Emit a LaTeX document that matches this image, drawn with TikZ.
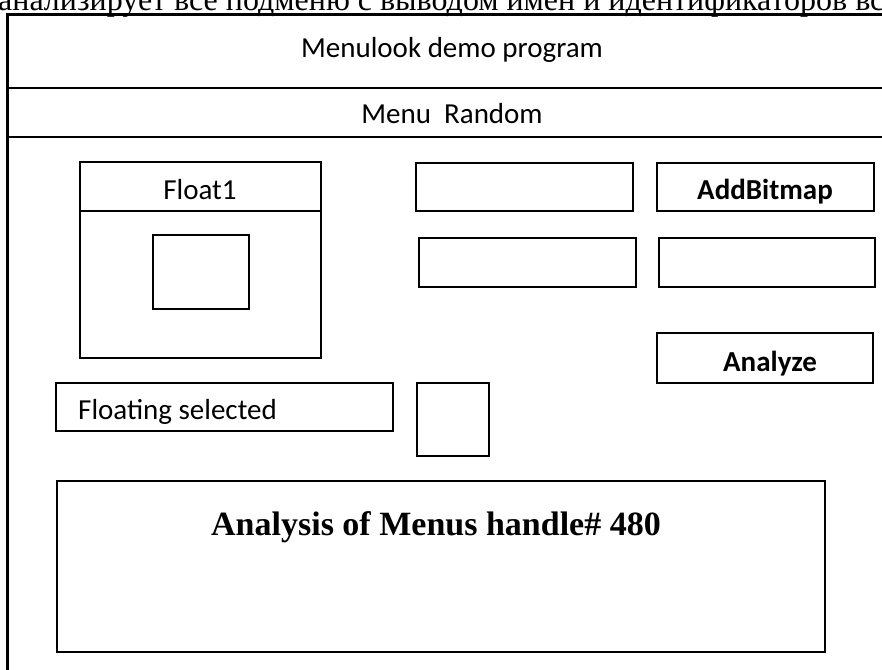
\documentclass[tikz,border=0pt]{standalone}
\usepackage{fontspec}
\setmainfont{Liberation Serif}
\newfontfamily\calibri{Carlito}
\usetikzlibrary{positioning}
\tikzset{
  winbox/.style={draw,line width=2pt,inner sep=0pt,anchor=north west},
  lbl/.style={font=\calibri\fontsize{29}{34}\selectfont,inner sep=0pt,anchor=base},
  boldlbl/.style={font=\calibri\bfseries\fontsize{29}{34}\selectfont,inner sep=0pt,anchor=base},
  frame/.style={line width=2.6pt}
}
\begin{document}
\begin{tikzpicture}[x=1pt,y=-1pt]
\useasboundingbox (0,0) rectangle (882,669);
\clip (0,0) rectangle (882,669);
\node[anchor=base west,inner sep=0pt,font=\fontsize{32}{37}\selectfont] (cap) at (-2,11) {анализирует все подменю с выводом имен и идентификаторов вс};
% main window
\coordinate (tl) at (7,15);
\coordinate (tr) at (890,15);
\coordinate (bl) at (7,690);
\coordinate (m1l) at (7,88);
\coordinate (m1r) at (890,88);
\coordinate (m2l) at (7,137);
\coordinate (m2r) at (890,137);
\draw[frame,line width=3pt] (bl) -- (tl) -- (tr);
\draw[frame] (m1l) -- (m1r);
\draw[frame,line width=2.3pt] (m2l) -- (m2r);
\node[lbl] (title) at (452,57) {Menulook demo program};
\node[lbl] (menu) at (452,123) {Menu\ \ Random};
% floating window
\node[winbox,minimum width=241pt,minimum height=49pt] (fhead) at (79,161) {};
\node[winbox,minimum width=241pt,minimum height=147pt] (fbody) at (79,210) {};
\node[winbox,minimum width=96pt,minimum height=74pt] (inner) at (152,234) {};
\node[lbl] (float) at (200,199) {Float1};
% buttons and fields
\node[winbox,minimum width=217pt,minimum height=48pt] (f1) at (415,162) {};
\node[winbox,minimum width=217pt,minimum height=48pt] (addbmp) at (656,162) {};
\node[boldlbl] (addtxt) at (765,199) {AddBitmap};
\node[winbox,minimum width=217pt,minimum height=49pt] (f2) at (418,237) {};
\node[winbox,minimum width=216pt,minimum height=49pt] (f3) at (658,237) {};
\node[winbox,minimum width=216pt,minimum height=50pt] (analyze) at (656,332) {};
\node[boldlbl] (antxt) at (770,371) {Analyze};
\node[winbox,minimum width=337pt,minimum height=48pt] (fsel) at (55,382) {};
\node[lbl,anchor=base west] (fseltxt) at (78,419) {Floating selected};
\node[winbox,minimum width=72pt,minimum height=73pt] (sq) at (416,382) {};
% output area
\node[winbox,line width=2.4pt,minimum width=768pt,minimum height=171pt] (out) at (56,480) {};
\node[inner sep=0pt,anchor=base,font=\bfseries\fontsize{34}{40}\selectfont] (outtxt) at (436,535) {Analysis of Menus handle\# 480};
\end{tikzpicture}
\end{document}
